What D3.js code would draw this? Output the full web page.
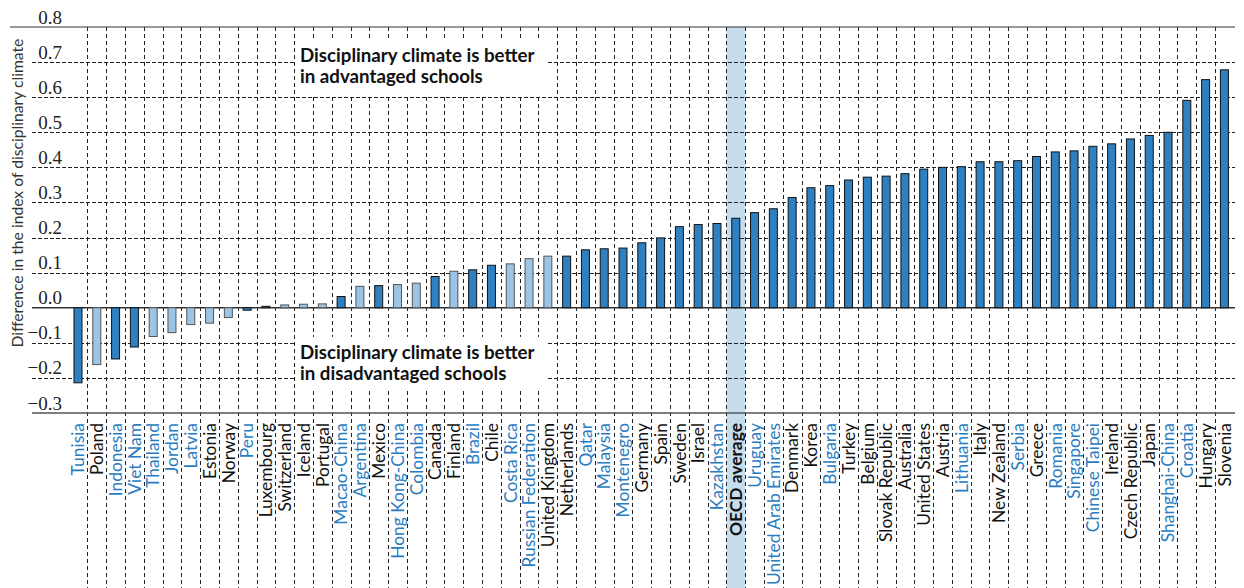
<!DOCTYPE html>
<html>
<head>
<meta charset="utf-8">
<script src="https://cdn.jsdelivr.net/npm/d3@7"></script>
<style>
  body { margin: 0; background: #fff; }
  svg { display: block; }
</style>
</head>
<body>
<svg id="chart" width="1244" height="588"></svg>
<script>
// Data
const countries = ["Tunisia", "Poland", "Indonesia", "Viet Nam", "Thailand", "Jordan", "Latvia", "Estonia",
    "Norway", "Peru", "Luxembourg", "Switzerland", "Iceland", "Portugal", "Macao-China", "Argentina",
    "Mexico", "Hong Kong-China", "Colombia", "Canada", "Finland", "Brazil", "Chile", "Costa Rica",
    "Russian Federation", "United Kingdom", "Netherlands", "Qatar", "Malaysia", "Montenegro", "Germany",
    "Spain", "Sweden", "Israel", "Kazakhstan", "OECD average", "Uruguay", "United Arab Emirates",
    "Denmark", "Korea", "Bulgaria", "Turkey", "Belgium", "Slovak Republic", "Australia", "United States",
    "Austria", "Lithuania", "Italy", "New Zealand", "Serbia", "Greece", "Romania", "Singapore",
    "Chinese Taipei", "Ireland", "Czech Republic", "Japan", "Shanghai-China", "Croatia", "Hungary", "Slovenia"];
const values = [-0.214, -0.162, -0.146, -0.112, -0.082, -0.071, -0.048, -0.044,
    -0.028, -0.007, 0.004, 0.008, 0.010, 0.011, 0.032, 0.061,
    0.063, 0.066, 0.070, 0.089, 0.104, 0.108, 0.121, 0.125,
    0.140, 0.147, 0.147, 0.165, 0.168, 0.170, 0.185,
    0.199, 0.231, 0.237, 0.240, 0.255, 0.271, 0.282,
    0.314, 0.342, 0.348, 0.364, 0.372, 0.375, 0.382, 0.395,
    0.400, 0.402, 0.416, 0.416, 0.419, 0.431, 0.444, 0.447,
    0.460, 0.467, 0.481, 0.491, 0.500, 0.591, 0.650, 0.678];
// partner economies (blue labels)
const partners = ["Tunisia", "Indonesia", "Viet Nam", "Thailand", "Jordan", "Latvia", "Peru", "Macao-China",
    "Argentina", "Hong Kong-China", "Colombia", "Brazil", "Costa Rica", "Russian Federation", "Qatar",
    "Malaysia", "Montenegro", "Kazakhstan", "Uruguay", "United Arab Emirates", "Bulgaria", "Lithuania",
    "Serbia", "Romania", "Singapore", "Chinese Taipei", "Shanghai-China", "Croatia"];
// differences not statistically significant (light bars)
const notSignificant = ["Poland", "Thailand", "Jordan", "Latvia", "Estonia", "Norway", "Switzerland",
    "Iceland", "Portugal", "Argentina", "Hong Kong-China", "Colombia", "Finland", "Costa Rica",
    "Russian Federation", "United Kingdom"];
const tickValues = [-0.3, -0.2, -0.1, 0.0, 0.1, 0.2, 0.3, 0.4, 0.5, 0.6, 0.7, 0.8];
const average = "OECD average";

// Display settings
const darkBlue = "#2f80c0";
const lightBlue = "#9cc4e4";
const labelBlue = "#2a7cc1";
const barWidth = 8;
const gridLeft = 32, gridRight = 1235;

const svg = d3.select("#chart");

const x = d3.scaleBand().domain(countries).range([68.6, 1233.8]).padding(0);
const y = d3.scaleLinear().domain([-0.3, 0.8]).range([413, 27]);
const bx = c => x(c) + x.bandwidth() / 2;

// OECD average highlight
svg.append("rect")
    .attr("x", x(average))
    .attr("y", y(0.8))
    .attr("width", x.bandwidth())
    .attr("height", 588 - y(0.8))
    .attr("fill", "#c6ddee");

// Horizontal dashed grid
svg.append("g").selectAll("line")
    .data(tickValues.filter(v => v !== 0 && v !== 0.8 && v !== -0.3))
    .enter().append("line")
    .attr("x1", gridLeft).attr("x2", gridRight)
    .attr("y1", d => Math.round(y(d)) + 0.5).attr("y2", d => Math.round(y(d)) + 0.5)
    .attr("stroke", "#222").attr("stroke-width", 1)
    .attr("stroke-dasharray", "4,2");

// Vertical dashed grid at category boundaries
svg.append("g").selectAll("line")
    .data(countries.slice(1))
    .enter().append("line")
    .attr("x1", d => Math.round(x(d)) + 0.5).attr("x2", d => Math.round(x(d)) + 0.5)
    .attr("y1", y(0.8)).attr("y2", 588)
    .attr("stroke", "#222").attr("stroke-width", 1)
    .attr("stroke-dasharray", "4,3");

// Annotation boxes
const notes = [
    {lines: ["Disciplinary climate is better", "in advantaged schools"], top: 0.76, base: 0.701},
    {lines: ["Disciplinary climate is better", "in disadvantaged schools"], top: -0.083, base: -0.146}
];
notes.forEach(n => {
    svg.append("rect")
        .attr("x", 295).attr("y", y(n.top))
        .attr("width", 252).attr("height", 53)
        .attr("fill", "#fff");
    n.lines.forEach((t, i) => {
        svg.append("text")
            .attr("x", 300)
            .attr("y", y(n.base) + i * 21.5)
            .attr("font-family", "Lato, 'Open Sans', sans-serif")
            .attr("font-weight", "bold")
            .attr("font-size", "18.7px")
            .attr("fill", "#111")
            .text(t);
    });
});

// Solid lines: top, zero, bottom
svg.append("line").attr("x1", 10).attr("x2", gridRight)
    .attr("y1", y(0.8)).attr("y2", y(0.8)).attr("stroke", "#333").attr("stroke-width", 1.2);
svg.append("line").attr("x1", gridLeft).attr("x2", gridRight)
    .attr("y1", y(0)).attr("y2", y(0)).attr("stroke", "#333").attr("stroke-width", 1.5);
svg.append("line").attr("x1", gridLeft).attr("x2", gridRight)
    .attr("y1", y(-0.3)).attr("y2", y(-0.3)).attr("stroke", "#555").attr("stroke-width", 1.5);

// Bars
svg.append("g").selectAll("rect")
    .data(countries)
    .enter().append("rect")
    .attr("x", d => bx(d) - barWidth / 2)
    .attr("y", (d, i) => y(Math.max(0, values[i])))
    .attr("width", barWidth)
    .attr("height", (d, i) => Math.abs(y(values[i]) - y(0)))
    .attr("fill", d => notSignificant.includes(d) ? lightBlue : darkBlue)
    .attr("stroke", d => notSignificant.includes(d) ? "#555" : "#111")
    .attr("stroke-width", 1);

// Tick labels
svg.append("g").selectAll("text")
    .data(tickValues)
    .enter().append("text")
    .attr("x", 62)
    .attr("y", d => y(d) - 3.5)
    .attr("text-anchor", "end")
    .attr("font-family", "'Liberation Serif', 'Times New Roman', serif")
    .attr("font-size", "19px")
    .attr("fill", "#222")
    .text(d => d3.format(".1f")(d));

// Country labels
svg.append("g").selectAll("text")
    .data(countries)
    .enter().append("text")
    .attr("transform", d => `translate(${bx(d)},423) rotate(-90)`)
    .attr("dy", "0.36em")
    .attr("text-anchor", "end")
    .attr("font-family", "Lato, 'Open Sans', sans-serif")
    .attr("font-size", "17.4px")
    .attr("font-weight", d => d === average ? "bold" : "normal")
    .attr("fill", d => partners.includes(d) ? labelBlue : "#111")
    .text(d => d);

// Y axis title
svg.append("text")
    .attr("transform", "translate(17,193) rotate(-90)")
    .attr("dy", "0.35em")
    .attr("text-anchor", "middle")
    .attr("font-family", "Lato, 'Open Sans', sans-serif")
    .attr("font-size", "15.7px")
    .attr("fill", "#333")
    .text("Difference in the index of disciplinary climate");
</script>
</body>
</html>
